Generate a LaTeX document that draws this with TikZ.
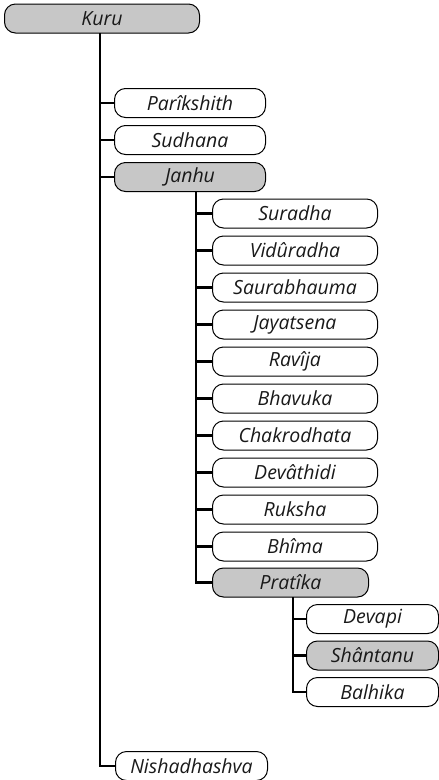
\documentclass[tikz,border=0pt]{standalone}
\usepackage{fontspec}
\setmainfont{Open Sans}
\begin{document}
\begin{tikzpicture}[x=1pt,y=-1pt,
  famnode/.style={draw=black, line width=1pt, rounded corners=11pt,
    minimum height=29pt, inner sep=0pt, anchor=west,
    font=\fontsize{19.5}{19.5}\selectfont\itshape, text=black!90},
  heir/.style={famnode, fill=black!22},
  branch/.style={line width=2.7pt, black}]
\useasboundingbox (0,0) rectangle (439,780);

% root
\node[heir, minimum width=195pt] (kuru) at (4,18.5) {Kuru};

% sons of Kuru
\node[famnode, minimum width=151pt] (parikshith) at (114,103) {Parîkshith};
\node[famnode, minimum width=151pt] (sudhana) at (114,140) {Sudhana};
\node[heir, minimum width=151pt] (janhu) at (114,177) {Janhu};
\node[famnode, minimum width=152pt] (nishadhashva) at (115,766) {Nishadhashva};

% sons of Janhu
\node[famnode, minimum width=165pt] (suradha) at (212,213.5) {Suradha};
\node[famnode, minimum width=165pt] (viduradha) at (212,250.5) {Vidûradha};
\node[famnode, minimum width=165pt] (saurabhauma) at (212,287.5) {Saurabhauma};
\node[famnode, minimum width=165pt] (jayatsena) at (212,324.5) {Jayatsena};
\node[famnode, minimum width=165pt] (ravija) at (212,361.5) {Ravîja};
\node[famnode, minimum width=165pt] (bhavuka) at (212,398.5) {Bhavuka};
\node[famnode, minimum width=165pt] (chakrodhata) at (212,435.5) {Chakrodhata};
\node[famnode, minimum width=165pt] (devathidi) at (212,472.5) {Devâthidi};
\node[famnode, minimum width=165pt] (ruksha) at (212,509.5) {Ruksha};
\node[famnode, minimum width=165pt] (bhima) at (212,546.5) {Bhîma};
\node[heir, minimum width=156pt] (pratika) at (212,582.5) {Pratîka};

% sons of Pratîka
\node[famnode, minimum width=132pt] (devapi) at (306,619) {Devapi};
\node[heir, minimum width=132pt] (shantanu) at (306,655.5) {Shântanu};
\node[famnode, minimum width=132pt] (balhika) at (306,692) {Balhika};

% trunk tops
\coordinate (kt) at (100,33);
\coordinate (jt) at (196,191.5);
\coordinate (pt) at (293,597);

% connectors
\foreach \c in {parikshith,sudhana,janhu,nishadhashva}
  \draw[branch] (kt) |- (\c.west);
\foreach \c in {suradha,viduradha,saurabhauma,jayatsena,ravija,bhavuka,
                chakrodhata,devathidi,ruksha,bhima,pratika}
  \draw[branch] (jt) |- (\c.west);
\foreach \c in {devapi,shantanu,balhika}
  \draw[branch] (pt) |- (\c.west);
\end{tikzpicture}
\end{document}
